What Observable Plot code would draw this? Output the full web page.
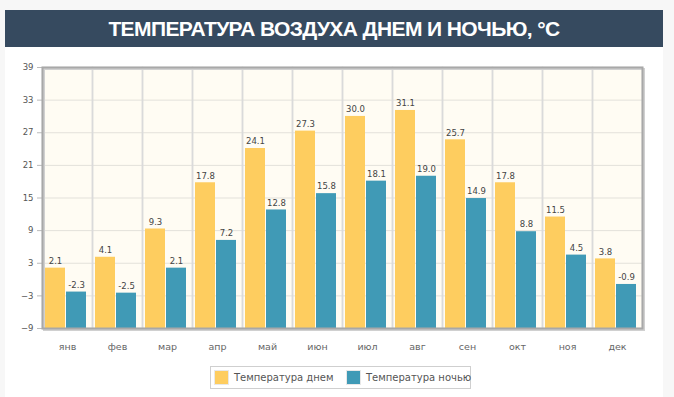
<!DOCTYPE html>
<html>
<head>
<meta charset="utf-8">
<script src="https://cdn.jsdelivr.net/npm/d3@7"></script>
<script src="https://cdn.jsdelivr.net/npm/@observablehq/plot@0.6"></script>
<style>
  html, body { margin: 0; padding: 0; background: #f7f7f7; width: 674px; height: 397px; overflow: hidden; }
  #panel { position: absolute; left: 5px; top: 10px; width: 658px; height: 387px; background: #fff; }
  #title { position: absolute; left: 5px; top: 10px; width: 658px; height: 37px; background: #364a5f;
           color: #fff; font-family: "Liberation Sans", Arial, sans-serif; font-weight: bold; font-size: 21px;
           line-height: 37px; text-align: center; letter-spacing: -0.6px; }
  #chart { position: absolute; left: 0; top: 47px; }
  #legend { position: absolute; left: 210px; top: 366px; width: 259px; height: 21px; border: 1px solid #cfcfcf;
            font-family: "DejaVu Sans", sans-serif; font-size: 10px; color: #555; }
  .item { position: absolute; top: 3px; height: 15px; line-height: 15px; white-space: nowrap; }
  .sw { display: inline-block; width: 15px; height: 15px; vertical-align: top; margin-right: 5px; box-sizing: border-box; border: 1px solid #e8e8e8; }
</style>
</head>
<body>
<div id="panel"></div>
<div id="title">ТЕМПЕРАТУРА ВОЗДУХА ДНЕМ И НОЧЬЮ, °С</div>
<div id="chart"></div>
<div id="legend"></div>
<script>
const months = ["янв", "фев", "мар", "апр", "май", "июн", "июл", "авг", "сен", "окт", "ноя", "дек"];
const dayTemps = [2.1, 4.1, 9.3, 17.8, 24.1, 27.3, 30.0, 31.1, 25.7, 17.8, 11.5, 3.8];
const nightTemps = [-2.3, -2.5, 2.1, 7.2, 12.8, 15.8, 18.1, 19.0, 14.9, 8.8, 4.5, -0.9];
const seriesNames = ["Температура днем", "Температура ночью"];
const seriesColors = ["#fecd5f", "#409ab6"];
const yTicks = [-9, -3, 3, 9, 15, 21, 27, 33, 39];

const data = months.flatMap((m, i) => [
  {month: m, series: seriesNames[0], value: dayTemps[i]},
  {month: m, series: seriesNames[1], value: nightTemps[i]}
]);

const chart = Plot.plot({
  width: 674,
  height: 313,
  marginLeft: 39,
  marginRight: 29,
  marginTop: 20,
  marginBottom: 32,
  style: {background: "none", fontFamily: "DejaVu Sans, sans-serif", color: "#555"},
  fx: {domain: months, padding: 0, label: null},
  x: {domain: seriesNames, paddingInner: 0.05, paddingOuter: 0.2, align: 0.35, axis: null},
  y: {domain: [yTicks[0], yTicks[yTicks.length - 1]], label: null},
  color: {domain: seriesNames, range: seriesColors},
  marks: [
    Plot.frame({fill: "#fffcf3", stroke: null}),
    Plot.gridY(yTicks, {stroke: "#e3e1da", strokeOpacity: 1}),
    Plot.frame({stroke: "#dadada", strokeWidth: 1.5}),
    Plot.axisY(yTicks, {tickSize: 5, tickPadding: 4, fontSize: 8.5, stroke: "#bbb", fill: "#555", label: null}),
    Plot.axisFx({anchor: "bottom", tickSize: 0, tickPadding: 15, fontSize: 9.5, fill: "#666", label: null}),
    Plot.barY(data, {fx: "month", x: "series", y1: yTicks[0], y2: "value", fill: "series"}),
    Plot.text(data, {fx: "month", x: "series", y: "value", text: d => d.value.toFixed(1), dy: -7,
                     fontSize: 8.5, fill: "#444", letterSpacing: 0.8}),
    Plot.frame({facet: "super", stroke: "#d0d0d0", strokeWidth: 2, dx: 1.5, dy: 1.5}),
    Plot.frame({facet: "super", stroke: "#a8a8a8", strokeWidth: 2})
  ]
});
document.getElementById("chart").appendChild(chart);

const legend = document.getElementById("legend");
const lefts = [3, 135];
seriesNames.forEach((name, i) => {
  const item = document.createElement("div");
  item.className = "item";
  item.style.left = lefts[i] + "px";
  const sw = document.createElement("span");
  sw.className = "sw";
  sw.style.background = seriesColors[i];
  item.appendChild(sw);
  item.appendChild(document.createTextNode(name));
  legend.appendChild(item);
});
</script>
</body>
</html>
